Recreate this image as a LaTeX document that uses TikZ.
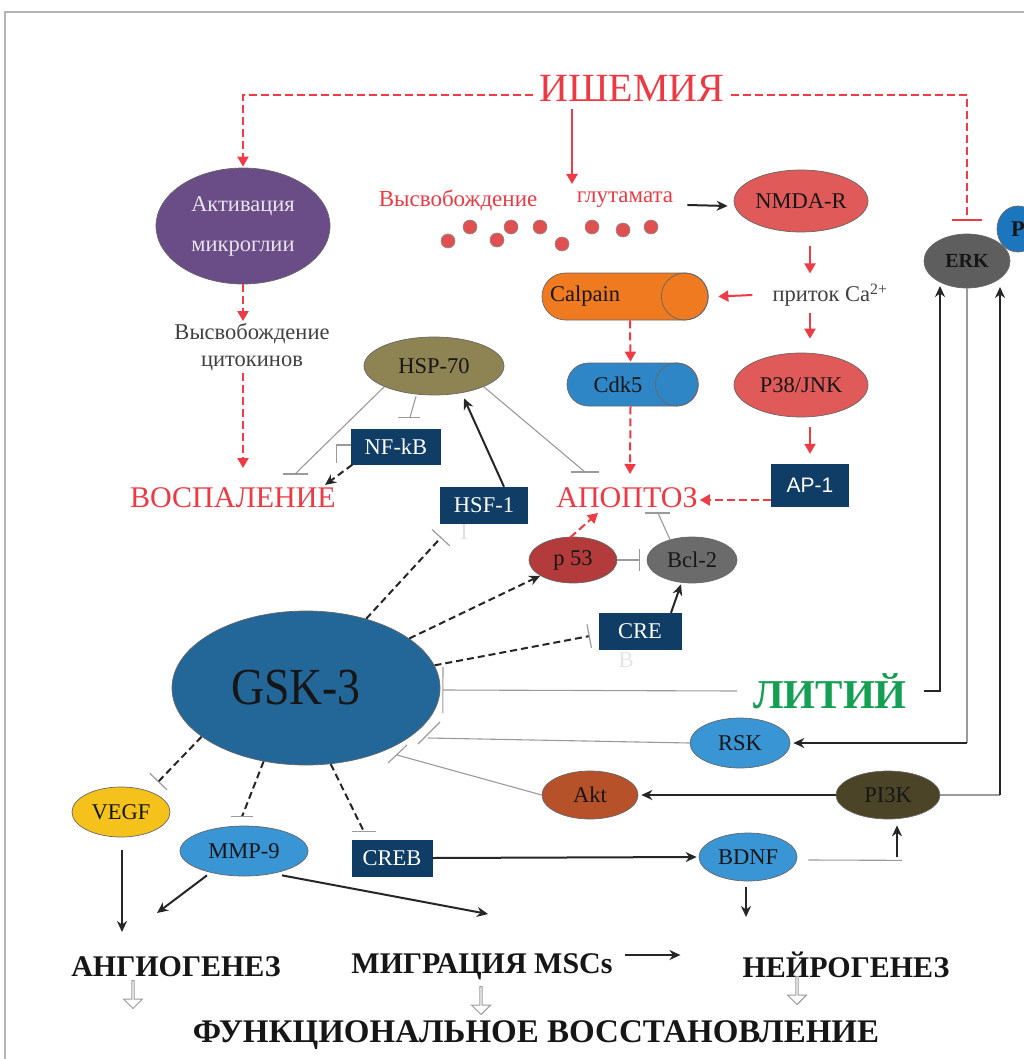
\documentclass[tikz,border=0pt]{standalone}
\usepackage{fontspec}
\setmainfont{Liberation Serif}
\setsansfont{Liberation Sans}
\usetikzlibrary{arrows.meta,shapes.geometric,shapes.misc,shapes.arrows,calc}
\definecolor{redl}{HTML}{EE3B45}
\definecolor{redt}{HTML}{EC3A44}
\definecolor{purp}{HTML}{6A4C87}
\definecolor{olivec}{HTML}{8E8352}
\definecolor{navyc}{HTML}{0F3D66}
\definecolor{orng}{HTML}{F07A20}
\definecolor{cdkb}{HTML}{2F86C6}
\definecolor{nmdar}{HTML}{E05A5A}
\definecolor{p53c}{HTML}{B33B3B}
\definecolor{bclg}{HTML}{6B6B6B}
\definecolor{erkg}{HTML}{5E5E5E}
\definecolor{pblue}{HTML}{1C76BD}
\definecolor{gskb}{HTML}{236799}
\definecolor{lblue}{HTML}{3A95D5}
\definecolor{aktc}{HTML}{B6512A}
\definecolor{pikc}{HTML}{4B4427}
\definecolor{vegfc}{HTML}{F5C21C}
\definecolor{lithg}{HTML}{14A052}
\definecolor{txtd}{HTML}{161616}
\definecolor{linegr}{HTML}{9A9A9A}
\definecolor{framegr}{HTML}{B4B4B4}
\definecolor{dotr}{HTML}{E05050}
\newcommand\myfnt{\fontsize{22.5}{26}\selectfont}
\begin{document}
\begin{tikzpicture}[x=1pt,y=-1pt,
  ell/.style={ellipse, draw=black!60, line width=0.7pt, fill=#1, inner sep=0pt, text=txtd, font=\myfnt},
  sz/.style 2 args={minimum width=#1pt, minimum height=#2pt},
  nbox/.style={rectangle, fill=navyc, draw=navyc, inner sep=0pt, text=white, font=\myfnt},
  cyl/.style={rounded rectangle, draw=black!60, line width=0.7pt, fill=#1, inner sep=0pt},
  lbl/.style={inner sep=2pt, font=\myfnt},
  barr/.style={draw=black!85, line width=2pt, -{Stealth[length=11pt,width=10pt]}},
  bdash/.style={barr, dash pattern=on 7pt off 4pt},
  bdl/.style={draw=black!85, line width=2pt, dash pattern=on 7pt off 4pt},
  binh/.style={bdl, -{Bar[width=24pt,line width=1.2pt,color=linegr]}},
  rarr/.style={draw=redl, line width=2pt, -{Triangle[length=10pt,width=11pt]}},
  rdash/.style={rarr, dash pattern=on 8pt off 4pt},
  inh/.style={draw=linegr, line width=1.1pt},
  dotn/.style={circle, fill=dotr, draw=black!45, line width=0.6pt, minimum size=14pt, inner sep=0pt},
  hollow/.style={single arrow, shape border rotate=270, draw=linegr, fill=white, line width=1pt, minimum height=28pt, minimum width=19pt, single arrow head extend=4pt, inner sep=0pt},
  btxt/.style={inner sep=2pt, text=txtd, font=\bfseries\fontsize{30}{30}\selectfont},
]
\useasboundingbox (0,0) rectangle (1024,1059);
\fill[white] (0,0) rectangle (1024,1059);
\draw[framegr, line width=2pt] (5,1059) -- (5,12) -- (1024,12);

% ---------- nodes ----------
\node[lbl, text=redt, font=\fontsize{40}{40}\selectfont] (isch) at (632,88) {ИШЕМИЯ};
\node[ell=purp, sz={174}{116}, text=white!85!purp, align=center, font=\fontsize{22.5}{40}\selectfont] (micro) at (243,226) {Активация\\микроглии};
\node[lbl, text=black!75, align=center, font=\fontsize{22.5}{27}\selectfont] (cyt) at (252,347) {Высвобождение\\цитокинов};
\node[lbl, text=redt, font=\fontsize{30}{30}\selectfont] (vos) at (233,498) {ВОСПАЛЕНИЕ};
\node[lbl, text=redt, font=\fontsize{23}{26}\selectfont] (relg1) at (458,200) {Высвобождение};
\node[lbl, text=redt, font=\fontsize{23}{26}\selectfont] (relg2) at (625,200) {глутамата};
\node[dotn] (d1) at (448,241) {};
\node[dotn] (d2) at (470,227) {};
\node[dotn] (d3) at (497,240) {};
\node[dotn] (d4) at (511,227) {};
\node[dotn] (d5) at (540,227) {};
\node[dotn] (d6) at (562,244) {};
\node[dotn] (d7) at (592,227) {};
\node[dotn] (d8) at (623,230) {};
\node[dotn] (d9) at (651,227) {};
\node[ell=nmdar, sz={134}{62}] (nmda) at (801,201) {NMDA-R};
\node[lbl, text=black!75] (ca) at (830,295) {приток Ca\textsuperscript{2+}};
\node[cyl=orng, sz={166}{47}] (calp) at (625,296.5) {};
\draw[black!60, line width=0.7pt] ([xshift=-23.5pt]calp.east) circle (23.5pt);
\node[lbl, text=txtd] (calpT) at (585,296) {Calpain};
\node[cyl=cdkb, sz={131}{43}] (cdk) at (632.5,384.5) {};
\draw[black!60, line width=0.7pt] ([xshift=-21.5pt]cdk.east) circle (21.5pt);
\node[lbl, text=txtd] (cdkT) at (618,385) {Cdk5};
\node[ell=nmdar, sz={134}{64}] (p38) at (801,385) {P38/JNK};
\node[nbox, sz={77}{42}, font=\sffamily\fontsize{21}{24}\selectfont] (ap1) at (810,485) {AP-1};
\node[lbl, text=redt, font=\fontsize{30}{30}\selectfont] (apop) at (627,498) {АПОПТОЗ};
\node[ell=olivec, sz={140}{58}] (hsp) at (434,366) {HSP-70};
\node[nbox, sz={89}{35}] (nfkb) at (396,447) {NF-kB};
\node[nbox, sz={87}{36}] (hsf) at (484,505) {HSF-1};
\node[lbl, text=black!12] (ghost1) at (464,532) {I};
\node[ell=p53c, sz={88}{46}] (p53) at (573,560) {p 53};
\node[ell=bclg, sz={90}{46}] (bcl) at (692,560) {Bcl-2};
\node[nbox, sz={82}{36}] (cre) at (640,631) {CRE};
\node[lbl, text=black!10] (ghost2) at (626,660) {B};
\node[ell=gskb, sz={268}{154}, font=\fontsize{52}{52}\selectfont] (gsk) at (306,688) {\scalebox{0.88}[1]{GSK-3}\hspace*{20pt}};
\node[lbl, text=lithg, font=\bfseries\fontsize{41}{41}\selectfont] (lith) at (830,691) {ЛИТИЙ};
\node[ell=pblue, sz={42}{46}, font=\bfseries\myfnt] (pp) at (1018,229) {P};
\node[ell=erkg, sz={86}{54}, font=\bfseries\fontsize{20}{22}\selectfont] (erk) at (967,261) {ERK};
\node[ell=lblue, sz={100}{50}] (rsk) at (740,743) {RSK};
\node[ell=aktc, sz={96}{48}] (akt) at (590,795) {Akt};
\node[ell=pikc, sz={104}{48}] (pi3k) at (888,795) {PI3K};
\node[ell=lblue, sz={98}{48}] (bdnf) at (748,857) {BDNF};
\node[nbox, sz={80}{36}] (creb) at (392,858) {CREB};
\node[ell=lblue, sz={128}{50}] (mmp) at (244,851) {MMP-9};
\node[ell=vegfc, sz={98}{50}] (vegf) at (121,812) {VEGF};
\node[btxt] (ang) at (176,967) {АНГИОГЕНЕЗ};
\node[btxt] (mig) at (482,967) {МИГРАЦИЯ MSCs};
\node[btxt] (neur) at (846,965) {НЕЙРОГЕНЕЗ};
\node[btxt, font=\bfseries\fontsize{33}{33}\selectfont] (func) at (536,1035) {ФУНКЦИОНАЛЬНОЕ ВОССТАНОВЛЕНИЕ};
\node[hollow] (h1) at (133,994) {};
\node[hollow] (h2) at (481,1000) {};
\node[hollow] (h3) at (797,990) {};

% ---------- ischemia ----------
\draw[rdash] ($(isch.west)+(-4,7)$) -| ($(micro.north)+(0,-1)$);
\draw[redl, line width=2pt, dash pattern=on 8pt off 4pt, -{Bar[width=30pt]}] ($(isch.east)+(4,7)$) -| ($(erk.north)+(0,-13)$);
\coordinate (glu) at (572,184);
\draw[rarr] ($(isch.south -| glu)+(0,6)$) -- (glu);
\draw[rdash] (micro.south) -- (cyt.north -| micro.south);
\draw[rdash] (cyt.south -| micro.south) -- ($(vos)+(10,-30)$);

% ---------- glutamate / NMDA ----------
\draw[barr] ($(relg2.east)+(12,5)$) -- ($(nmda.west)+(-6,5)$);
\draw[rarr] ($(nmda.south)+(9,14)$) -- ($(ca.north -| nmda.south)+(9,-8)$);
\draw[rarr] ($(ca.west)+(-18,0)$) -- ($(calp.east)+(10,0)$);
\draw[rarr] ($(ca.south -| nmda.south)+(9,4)$) -- ($(p38.north)+(9,-14)$);
\draw[rdash] ($(calp.south)+(5,0)$) -- ($(cdk.north)+(-2,-1)$);
\draw[rdash] ($(cdk.south)+(-2,0)$) -- ($(apop)+(3,-24)$);
\draw[rarr] ($(p38.south)+(9,10)$) -- ($(ap1.north)+(0,-10)$);
\draw[rdash] ($(ap1.west)+(0,15)$) -- ($(apop.east)+(0,2)$);

% ---------- HSP-70 ----------
\coordinate (b1) at ($(vos)+(62,-24)$);
\draw[inh] (hsp.south west) -- (b1);
\draw[inh] ($(b1)+(-12,0)$) -- ($(b1)+(13,0)$);
\coordinate (b2) at ($(nfkb.north)+(14,-12)$);
\draw[inh] ($(hsp.south)+(-18,1)$) -- (b2);
\draw[inh] ($(b2)+(-12,0)$) -- ($(b2)+(10,0)$);
\draw[inh] ($(nfkb.west)+(0,-2)$) -- ++(-15,0) -- ++(0,18);
\draw[bdash] ($(nfkb.south west)+(1,0)$) -- ($(vos)+(92,-13)$);
\draw[barr] ($(hsf.north)+(20,0)$) -- ($(hsp.south)+(30,3)$);
\coordinate (b3) at ($(apop)+(-42,-26)$);
\draw[inh] (hsp.south east) -- (b3);
\draw[inh] ($(b3)+(-14,0)$) -- ($(b3)+(14,0)$);

% ---------- apoptosis ----------
\coordinate (b4) at ($(apop)+(31,15)$);
\draw[inh] ($(bcl.north)+(-22,3)$) -- (b4);
\draw[inh] ($(b4)+(-13,0)$) -- ($(b4)+(12,0)$);
\draw[rdash] ($(p53.north)+(-3,1)$) -- ($(apop)+(-29,15)$);
\draw[inh, -{Bar[width=22pt]}] (p53.east) -- ($(bcl.west)+(-7,0)$);
\draw[barr] ($(cre.north)+(31,0)$) -- ($(bcl.south)+(-11,1)$);

% ---------- GSK-3 ----------
\draw[binh] (gsk.49) -- ($(hsf.south west)+(1,14)$);
\draw[bdash] (gsk) -- (p53);
\draw[binh] (gsk.10) -- ($(cre.west)+(-9,5)$);
\draw[inh, -{Bar[width=46pt]}] ($(lith.west)+(-14,0)$) -- ($(gsk.east)+(2,2)$);
\draw[barr] ($(lith.east)+(15,0)$) -| ($(erk)+(-27,25)$);
\draw[inh] (erk.south) -- (erk.south |- rsk.east);
\draw[barr] (erk.south |- rsk.east) -- ($(rsk.east)+(3,0)$);
\coordinate (ex) at ($(erk)+(33,26)$);
\draw[inh] (pi3k.east) -- (pi3k.east -| ex);
\draw[barr] (pi3k.east -| ex) -- (ex);
\coordinate (b5) at ($(gsk)+(122,50)$);
\draw[inh] (rsk.west) -- (b5);
\draw[inh] ($(b5)+(-10,6)$) -- ($(b5)+(12,-16)$);
\coordinate (b6) at ($(gsk)+(91,67)$);
\draw[inh] (akt.west) -- (b6);
\draw[inh] ($(b6)+(-9,8)$) -- ($(b6)+(10,-10)$);
\draw[barr] (pi3k.west) -- ($(akt.east)+(3,0)$);

% ---------- BDNF ----------
\coordinate (b7) at ($(pi3k.south)+(14,41)$);
\draw[inh] ($(bdnf.east)+(11,3)$) -- (b7);
\draw[barr] ($(pi3k.south)+(9,38)$) -- ($(pi3k.south)+(9,6)$);
\draw[barr] ($(bdnf.south)+(-2,6)$) -- ($(neur)+(-100,-48)$);
\draw[barr] (creb.east) -- ($(bdnf.west)+(-2,0)$);

% ---------- lower GSK targets ----------
\coordinate (b8) at ($(creb.north)+(-28,-8)$);
\draw[bdl] (gsk.-72) -- (b8);
\draw[inh] ($(b8)+(-12,0)$) -- ($(b8)+(12,0)$);
\coordinate (b9) at ($(mmp.north)+(-2,-9)$);
\draw[bdl] (gsk.-120) -- (b9);
\draw[inh] ($(b9)+(-11,0)$) -- ($(b9)+(11,0)$);
\draw[binh] (gsk.-155) -- ($(vegf)+(37,-30)$);

% ---------- outcomes ----------
\draw[barr] ($(vegf.south)+(1,13)$) -- ($(ang)+(-54,-35)$);
\draw[barr] ($(mmp.south)+(-37,-1)$) -- ($(ang)+(-19,-54)$);
\draw[barr] ($(mmp.south)+(38,-1)$) -- ($(mig)+(6,-53)$);
\draw[barr] ($(mig.east)+(10,-12)$) -- ($(neur.west)+(-60,-10)$);
\end{tikzpicture}
\end{document}
